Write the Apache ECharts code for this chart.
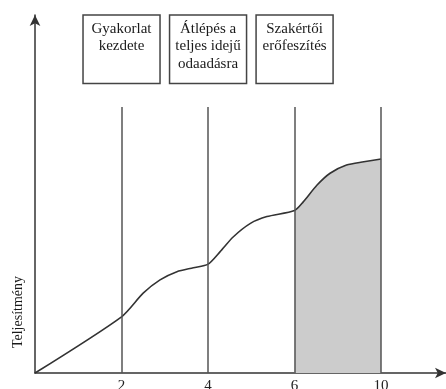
<!DOCTYPE html>
<html>
<head>
<meta charset="utf-8">
<script src="https://cdn.jsdelivr.net/npm/echarts@6/dist/echarts.min.js"></script>
<style>
html,body{margin:0;padding:0;background:#fff;}
#c{width:446px;height:389px;}
</style>
</head>
<body>
<div id="c"></div>
<script>
// Tick positions (even spacing) and their labels
var tickPositions = [1, 2, 3, 4];
var tickLabels = ['2', '4', '6', '10'];
// Performance curve (x in tick-position units, y 0..100)
var curveX = [0, 1, 1.25, 1.445, 1.64, 1.83, 2, 2.14, 2.29, 2.49, 2.68, 3, 3.10, 3.26, 3.41, 3.60, 3.80, 4];
var curveY = [0, 15.7, 22.3, 26.0, 28.3, 29.4, 30.4, 33.9, 38.0, 41.8, 43.7, 45.4, 47.8, 52.5, 55.8, 58.1, 59.0, 59.8];
// Shaded region: from the 3rd phase line to the last
var shadeFrom = 3, shadeTo = 4;
// Vertical phase lines top value
var phaseLineTop = 74.3;
// Phase boxes
var boxCenters = [1, 2, 3];
var boxTexts = ['Gyakorlat\nkezdete', 'Átlépés a\nteljes idejű\nodaadásra', 'Szakértői\nerőfeszítés'];
var boxHalfWidth = 0.445, boxTop = 100, boxBottom = 80.9;
var yAxisName = 'Teljesítmény';

var curve = curveX.map(function (x, i) { return [x, curveY[i]]; });
var shade = curve.filter(function (p) { return p[0] >= shadeFrom && p[0] <= shadeTo; });

var font = '"Liberation Serif", "DejaVu Serif", serif';
var chart = echarts.init(document.getElementById('c'));
chart.setOption({
  animation: false,
  grid: { left: 35, right: 0, top: 15, bottom: 16, containLabel: false, outerBoundsMode: 'none' },
  xAxis: {
    type: 'value', min: 0, max: 4.75, interval: 1,
    splitLine: { show: false },
    axisTick: { show: false },
    axisLine: { lineStyle: { color: '#333', width: 1.5 }, symbol: ['none', 'arrow'], symbolSize: [8, 11] },
    axisLabel: {
      margin: 6, fontFamily: font, fontSize: 15, color: '#222', showMaxLabel: false,
      formatter: function (v) { var k = tickPositions.indexOf(v); return k >= 0 ? tickLabels[k] : ''; }
    }
  },
  yAxis: {
    type: 'value', min: 0, max: 100,
    splitLine: { show: false },
    axisTick: { show: false },
    axisLabel: { show: false },
    axisLine: { lineStyle: { color: '#333', width: 1.5 }, symbol: ['none', 'arrow'], symbolSize: [8, 11] }
  },
  graphic: [{
    type: 'text', x: 18, y: 312, rotation: Math.PI / 2,
    style: { text: yAxisName, font: '14px ' + font, fill: '#1a1a1a', textAlign: 'center', textVerticalAlign: 'middle' }
  }],
  series: [
    {
      type: 'line', data: shade, smooth: 0.25, showSymbol: false, z: 1,
      lineStyle: { width: 0 },
      areaStyle: { color: '#cccccc', opacity: 1 }
    },
    {
      type: 'line', data: curve, smooth: 0.25, showSymbol: false, z: 3,
      lineStyle: { color: '#333', width: 1.6 },
      markLine: {
        silent: true, symbol: ['none', 'none'], label: { show: false },
        lineStyle: { color: '#555', width: 1.5, type: 'solid' },
        data: tickPositions.map(function (x) { return [{ coord: [x, 0] }, { coord: [x, phaseLineTop] }]; })
      },
      markArea: {
        silent: true,
        itemStyle: { color: '#fff', borderColor: '#444', borderWidth: 1.5 },
        label: { show: true, position: 'insideTop', distance: 6, fontFamily: font, fontSize: 15, lineHeight: 17.5, color: '#1a1a1a', align: 'center' },
        data: boxCenters.map(function (c, i) {
          return [{ coord: [c - boxHalfWidth, boxTop], name: boxTexts[i] }, { coord: [c + boxHalfWidth, boxBottom] }];
        })
      }
    }
  ]
});
</script>
</body>
</html>
